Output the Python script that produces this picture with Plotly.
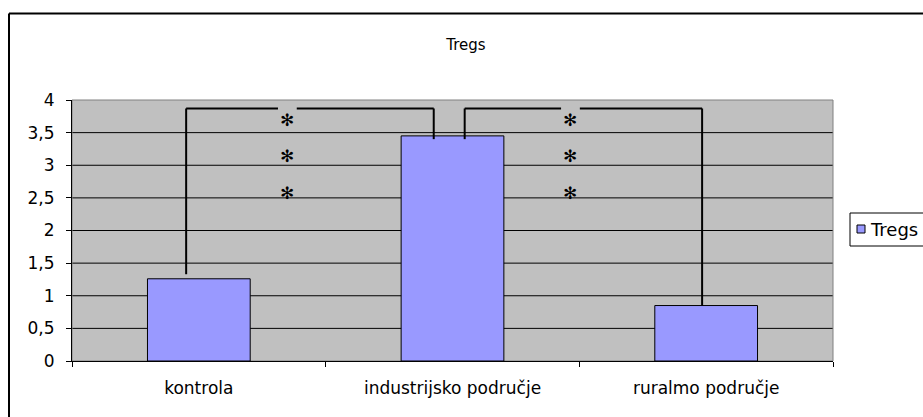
import plotly.graph_objects as go

# --- data -------------------------------------------------------------
categories = ["kontrola", "industrijsko područje", "ruralmo područje"]
series_name = "Tregs"
values = [1.26, 3.45, 0.85]
y_ticks = [0, 0.5, 1, 1.5, 2, 2.5, 3, 3.5, 4]
y_tick_labels = ["0", "0,5", "1", "1,5", "2", "2,5", "3", "3,5", "4"]
# significance brackets: (from category, to category, level)
brackets = [(0, 1, 3.87), (1, 2, 3.87)]
stars = ["✻", "✻", "✻"]
star_levels = [3.69, 3.14, 2.57]

# --- layout geometry (pixels) ----------------------------------------
W, H = 923, 417
L, R, T, B = 72, 90, 100, 56
PW, PH = W - L - R, H - T - B

def px(x):
    return (x - L) / PW

def py(y):
    return (H - B - y) / PH

BAR = "#9999FF"
FONT = "DejaVu Sans"

fig = go.Figure()
fig.add_trace(go.Bar(
    x=categories, y=values, name=series_name,
    marker=dict(color=BAR, line=dict(color="black", width=1)),
    width=0.405, showlegend=False, hoverinfo="skip",
))

shapes = []
# horizontal gridlines below the bars (top edge is the plot border)
for v in y_ticks[1:-1]:
    shapes.append(dict(type="line", xref="paper", yref="y", x0=0, x1=1, y0=v, y1=v,
                       line=dict(color="black", width=1), layer="below"))
# plot area border (grey top/right)
shapes.append(dict(type="rect", xref="paper", yref="paper", x0=0, x1=1, y0=0, y1=1,
                   line=dict(color="#808080", width=1), layer="below"))

# brackets between bars: leg offsets from bar centres, star column position
leg_offsets = [(-0.05, -0.074), (0.048, -0.016)]
star_x = [0.349, 1.465]
gap = 0.037
line = dict(color="black", width=2)
annotations = []
for (a, b, lvl), (oa, ob), xm in zip(brackets, leg_offsets, star_x):
    xa, xb = a + oa, b + ob
    ya = values[a] + 0.07 if a == 0 else values[a] - 0.05
    yb = values[b] - 0.05 if b == 1 else values[b]
    shapes += [
        dict(type="line", xref="x", yref="y", x0=xa, x1=xa, y0=ya, y1=lvl, line=line),
        dict(type="line", xref="x", yref="y", x0=xa, x1=xm - gap, y0=lvl, y1=lvl, line=line),
        dict(type="line", xref="x", yref="y", x0=xm + gap, x1=xb, y0=lvl, y1=lvl, line=line),
        dict(type="line", xref="x", yref="y", x0=xb, x1=xb, y0=lvl, y1=yb, line=line),
    ]
    for s, yl in zip(stars, star_levels):
        annotations.append(dict(x=xm, y=yl, xref="x", yref="y", text=s, showarrow=False,
                                font=dict(family=FONT, size=17, color="black")))

# outer chart frame (top and left edges visible)
shapes.append(dict(type="line", xref="paper", yref="paper",
                   x0=px(9), x1=px(W + 20), y0=py(13.5), y1=py(13.5),
                   line=dict(color="black", width=2)))
shapes.append(dict(type="line", xref="paper", yref="paper",
                   x0=px(9), x1=px(9), y0=py(13.5), y1=py(H + 20),
                   line=dict(color="black", width=2)))

# legend box
shapes.append(dict(type="rect", xref="paper", yref="paper",
                   x0=px(850), x1=px(W + 30), y0=py(246), y1=py(213),
                   line=dict(color="black", width=1), fillcolor="white"))
shapes.append(dict(type="rect", xref="paper", yref="paper",
                   x0=px(857), x1=px(865), y0=py(233), y1=py(225),
                   line=dict(color="black", width=1), fillcolor=BAR))
annotations.append(dict(x=px(868), y=py(229.5), xref="paper", yref="paper",
                        text=series_name, showarrow=False, xanchor="left", yanchor="middle",
                        font=dict(family=FONT, size=18, color="black")))

fig.update_layout(
    width=W, height=H,
    margin=dict(l=L, r=R, t=T, b=B),
    paper_bgcolor="white", plot_bgcolor="#C0C0C0",
    title=dict(text="Tregs", x=466 / W, xref="container", y=1 - 45 / H, yref="container",
               xanchor="center", yanchor="middle",
               font=dict(family=FONT, size=15, color="black")),
    shapes=shapes, annotations=annotations,
    bargap=0.595,
    xaxis=dict(type="category", tickson="boundaries", ticks="outside", ticklen=5,
               tickcolor="black", showline=True, linecolor="black", linewidth=1,
               showgrid=False, range=[-0.5, 2.5], ticklabelstandoff=12,
               tickfont=dict(family=FONT, size=17, color="black")),
    yaxis=dict(range=[0, 4], tickvals=y_ticks, ticktext=y_tick_labels,
               ticks="outside", ticklen=5, tickcolor="black", showline=True,
               linecolor="black", linewidth=1, showgrid=False, zeroline=False,
               ticklabelstandoff=8, tickfont=dict(family=FONT, size=17, color="black")),
)

fig.write_html("out.html")
